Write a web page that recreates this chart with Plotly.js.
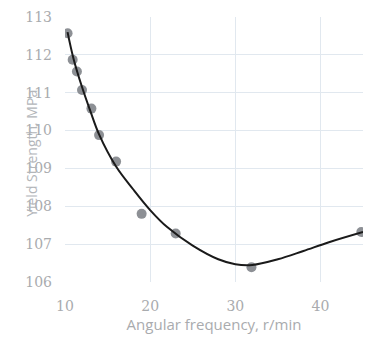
<!DOCTYPE html>
<html>
<head>
<meta charset="utf-8">
<script src="https://cdn.plot.ly/plotly-3.0.1.min.js"></script>
<style>html,body{margin:0;padding:0;background:#fff;}#chart{width:367px;height:339px;}</style>
</head>
<body>
<div id="chart"></div>
<script>
// Measured points
const freq = [10.3, 10.9, 11.4, 12.0, 13.1, 14.0, 16.0, 19.0, 23.0, 31.9, 44.8];
const strength = [112.57, 111.87, 111.56, 111.07, 110.58, 109.88, 109.18, 107.80, 107.28, 106.39, 107.32];
// Fitted curve
const fitX = [10.3, 11, 12, 13, 14, 16, 18, 20, 22, 25, 28, 30, 32, 35, 38, 41, 45];
const fitY = [112.6, 111.9, 111.15, 110.5, 109.9, 109.05, 108.45, 107.9, 107.45, 106.96, 106.6, 106.47, 106.45, 106.6, 106.82, 107.05, 107.32];
const xTicks = [10, 20, 30, 40];
const yTicks = [106, 107, 108, 109, 110, 111, 112, 113];

const txt = '#a9abae';
const grid = '#e1e8ef';
Plotly.newPlot('chart', [
  {x: freq, y: strength, mode: 'markers', type: 'scatter',
   marker: {color: '#8d9095', size: 10}, showlegend: false, hoverinfo: 'none'},
  {x: fitX, y: fitY, mode: 'lines', type: 'scatter',
   line: {color: '#1a1a1a', width: 2, shape: 'spline'}, showlegend: false, hoverinfo: 'none'}
], {
  width: 367, height: 339,
  margin: {l: 65, r: 4, t: 17, b: 57},
  paper_bgcolor: '#fff', plot_bgcolor: '#fff',
  font: {family: 'Open Sans, sans-serif', color: txt, size: 13},
  xaxis: {range: [10, 45], tickvals: xTicks, ticktext: xTicks.map(String),
          showgrid: true, gridcolor: grid, zeroline: false, showline: false,
          ticks: '', ticklabelstandoff: 14, tickfont: {size: 14, color: txt, family: 'DejaVu Serif, serif'},
          title: {text: 'Angular frequency, r/min', font: {size: 15, color: txt}, standoff: 4}},
  yaxis: {range: [106, 113], tickvals: yTicks, ticktext: yTicks.map(String),
          showgrid: true, gridcolor: grid, zeroline: false, showline: false,
          ticks: '', ticklabelstandoff: 12, tickfont: {size: 14, color: txt, family: 'DejaVu Serif, serif'}},
  annotations: [{text: 'Yield Strength, MPa', textangle: -90, xref: 'paper', yref: 'paper',
                 x: -0.111, y: 0.487, showarrow: false, font: {size: 14, color: '#b3b6ba'},
                 xanchor: 'center', yanchor: 'middle'}]
}, {displayModeBar: false, staticPlot: true});
</script>
</body>
</html>
